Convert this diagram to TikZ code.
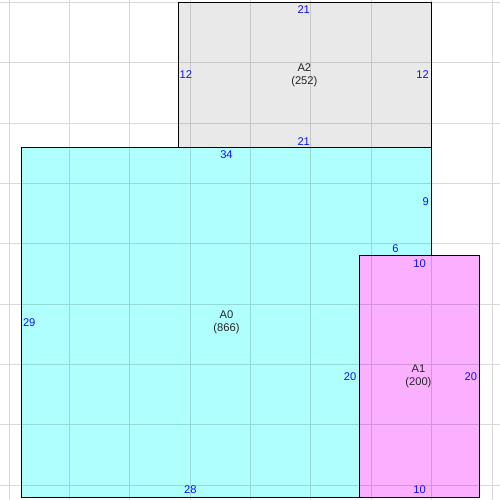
\documentclass[tikz,border=0pt]{standalone}
\usepackage{fontspec}
\setmainfont{Liberation Sans}
\definecolor{fillA0}{HTML}{AFFFFF}
\definecolor{fillA1}{HTML}{FBAFFF}
\definecolor{fillA2}{HTML}{E9E9E9}
\definecolor{lblblue}{HTML}{1010FF}
\tikzset{
  gridline/.style={draw=black, draw opacity=0.15, line width=0.7pt},
  roomA/.style={draw=black, line width=0.75pt},
  dimlbl/.style={font=\fontsize{7.9}{9.2}\selectfont, text=lblblue, inner sep=0pt},
  namelbl/.style={font=\fontsize{7.9}{9.2}\selectfont, text=black!85, inner sep=0pt, align=center},
}
\begin{document}
\begin{tikzpicture}[x=0.3cm,y=0.3cm]
\useasboundingbox (-1.765,-0.224) rectangle (39.66,41.2);
\fill[white] (-1.765,-0.224) rectangle (39.66,41.2);
% fills
\fill[fillA2] (13,29) rectangle (34,41);
\fill[fillA0] (0,0) rectangle (34,29);
\fill[fillA1] (28,0) rectangle (38,20);
% grid over fills
\draw[gridline]
  \foreach \x in {-1,4,...,39} { (\x,-0.3) -- (\x,41.3) }
  \foreach \y in {1,6,...,41} { (-1.8,\y) -- (39.7,\y) };
% borders
\draw[roomA] (13,29) rectangle (34,41);
\draw[roomA] (28,0) -- (0,0) -- (0,29) -- (34,29) -- (34,20);
\draw[roomA] (28,0) rectangle (38,20);
% A2 labels
\node[namelbl] (nA2) at (23.45,35) {A2\\(252)};
\node[dimlbl] (a2t) at (23.4,40.4) {21};
\node[dimlbl, anchor=west] (a2l) at (13.1,35) {12};
\node[dimlbl, anchor=east] (a2r) at (33.78,35) {12};
\node[dimlbl] (a2b) at (23.4,29.5) {21};
% A0 labels
\node[namelbl] (nA0) at (17,14.5) {A0\\(866)};
\node[dimlbl] (a0t) at (17,28.4) {34};
\node[dimlbl, anchor=east] (a0r) at (33.78,24.5) {9};
\node[dimlbl, anchor=west] (a0l) at (0.12,14.45) {29};
\node[dimlbl] (a0b) at (14,0.6) {28};
\node[dimlbl] (a0s) at (31,20.6) {6};
\node[dimlbl, anchor=east] (a0m) at (27.78,10) {20};
% A1 labels
\node[namelbl] (nA1) at (32.9,10) {A1\\(200)};
\node[dimlbl] (a1t) at (33,19.35) {10};
\node[dimlbl, anchor=east] (a1r) at (37.78,10) {20};
\node[dimlbl] (a1b) at (33,0.6) {10};
\end{tikzpicture}
\end{document}
